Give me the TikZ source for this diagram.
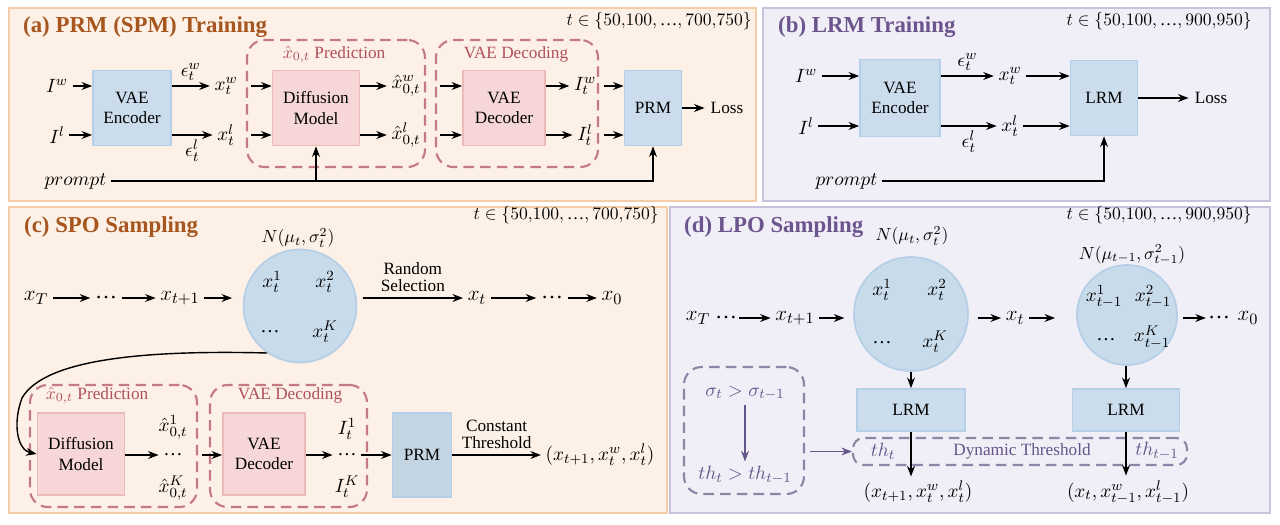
\documentclass[tikz,border=0pt]{standalone}
\usepackage{amsmath,amssymb}
\usepackage{fontspec}
\setmainfont{Liberation Serif}
\usetikzlibrary{arrows.meta, positioning, calc, fit}
\definecolor{peach}{HTML}{FDF0E6}
\definecolor{peachline}{HTML}{F6CBA8}
\definecolor{lilac}{HTML}{F0EEF6}
\definecolor{lilacline}{HTML}{C9C2DD}
\definecolor{ttlorange}{HTML}{A6561E}
\definecolor{ttlpurple}{HTML}{6C558E}
\definecolor{bluefill}{HTML}{CBDDED}
\definecolor{blueline}{HTML}{B4D0E8}
\definecolor{pinkfill}{HTML}{F6D6D6}
\definecolor{pinkline}{HTML}{EDBABA}
\definecolor{grpred}{HTML}{C47A84}
\definecolor{grptext}{HTML}{B0505C}
\definecolor{grppurple}{HTML}{8E84A6}
\definecolor{purptext}{HTML}{64568A}
\definecolor{circfill}{HTML}{C8DBEB}
\definecolor{circline}{HTML}{B4CFE6}
\newcommand{\ellip}{\text{…}}

\begin{document}
\begin{tikzpicture}[x=0.02cm, y=-0.02cm,
    ttl/.style={anchor=base west, font=\fontsize{13}{15}\selectfont\bfseries},
    tset/.style={anchor=base east, inner sep=0pt, font=\fontsize{10}{12}\selectfont},
    bbox/.style={rectangle, draw=blueline, fill=bluefill, line width=1pt, align=center,
                 font=\fontsize{9.8}{11.5}\selectfont},
    pbox/.style={bbox, draw=pinkline, fill=pinkfill},
    grp/.style={draw=grpred, dash pattern=on 6pt off 3.5pt, line width=1.2pt,
                rounded corners=10pt, inner sep=0pt},
    pgrp/.style={grp, draw=grppurple},
    glbl/.style={anchor=base, text=grptext, font=\fontsize{9.8}{11.5}\selectfont},
    mth/.style={inner sep=2.5pt, font=\fontsize{11}{13}\selectfont},
    big/.style={mth, font=\fontsize{12.5}{14}\selectfont},
    nrm/.style={mth, font=\fontsize{10}{12}\selectfont},
    txt/.style={align=center, font=\fontsize{9.8}{11.5}\selectfont},
    smp/.style={circle, draw=circline, fill=circfill, line width=1pt, inner sep=0pt},
    arr/.style={-{Stealth[length=6pt, width=4.5pt]}, line width=0.8pt},
    parr/.style={arr, draw=purptext}
]
\useasboundingbox (0,0) rectangle (1280,524);

% panels
\draw[fill=peach, draw=peachline, line width=1.1pt] (9,8) rectangle (756,201);
\draw[fill=lilac, draw=lilacline, line width=1.1pt] (763,8) rectangle (1270,201);
\draw[fill=peach, draw=peachline, line width=1.1pt] (9,207) rectangle (667,513);
\draw[fill=lilac, draw=lilacline, line width=1.1pt] (670,207) rectangle (1270,513);

%% (a) PRM (SPM) Training
\node[ttl, text=ttlorange] (ttla) at (17,32) {(a) PRM (SPM) Training};
\node[tset] (tseta) at (752,26) {$t\in\{50{,}100,\ellip,700{,}750\}$};

\node[grp, fit={(247,40) (425,167)}] (preda) {};
\node[glbl] (predla) at (334,58) {$\hat{x}_{0,t}$ Prediction};
\node[grp, fit={(436,40) (598,167)}] (vaeda) {};
\node[glbl] (vaedla) at (516,58) {VAE Decoding};

\node[mth] (Iwa) at (57,86) {$I^w$};
\node[mth] (Ila) at (57,135) {$I^l$};
\node[bbox, minimum width=1.56cm, minimum height=1.5cm] (enca) at (132,108) {VAE\\Encoder};
\node[mth] (xwa) at (226,86) {$x_t^w$};
\node[mth] (xla) at (226,135) {$x_t^l$};
\node[pbox, minimum width=1.74cm, minimum height=1.5cm] (dma) at (316,108) {Diffusion\\Model};
\node[mth] (hxwa) at (406,86) {$\hat{x}_{0,t}^w$};
\node[mth] (hxla) at (406,135) {$\hat{x}_{0,t}^l$};
\node[pbox, minimum width=1.64cm, minimum height=1.5cm] (deca) at (504,108) {VAE\\Decoder};
\node[mth] (Itwa) at (585,86) {$I_t^w$};
\node[mth] (Itla) at (585,135) {$I_t^l$};
\node[bbox, minimum width=1.14cm, minimum height=1.5cm] (prma) at (653,108) {PRM};
\node[txt] (lossa) at (727,108) {Loss};
\node[mth, anchor=east] (prompta) at (111,181) {$prompt$};

\draw[arr] (Iwa) -- (Iwa -| enca.west);
\draw[arr] (Ila) -- (Ila -| enca.west);
\draw[arr] (enca.east |- xwa) -- node[mth, above] {$\epsilon_t^w$} (xwa);
\draw[arr] (enca.east |- xla) -- node[mth, below] {$\epsilon_t^l$} (xla);
\draw[arr] ([xshift=3pt]preda.west |- xwa) -- (xwa -| dma.west);
\draw[arr] ([xshift=3pt]preda.west |- xla) -- (xla -| dma.west);
\draw[arr] (dma.east |- hxwa) -- (hxwa);
\draw[arr] (dma.east |- hxla) -- (hxla);
\draw[arr] ([xshift=3pt]vaeda.west |- hxwa) -- (hxwa -| deca.west);
\draw[arr] ([xshift=3pt]vaeda.west |- hxla) -- (hxla -| deca.west);
\draw[arr] (deca.east |- Itwa) -- (Itwa);
\draw[arr] (deca.east |- Itla) -- (Itla);
\draw[arr] ([xshift=3pt]vaeda.east |- Itwa) -- (Itwa -| prma.west);
\draw[arr] ([xshift=3pt]vaeda.east |- Itla) -- (Itla -| prma.west);
\draw[arr] (prma) -- (lossa);
\draw[arr] (prompta.east) -- (prompta.east -| prma.south) -- (prma.south);
\draw[arr] (prompta.east -| dma.south) -- (dma.south);

%% (b) LRM Training
\node[ttl, text=ttlpurple] (ttlb) at (772,32) {(b) LRM Training};
\node[tset] (tsetb) at (1252,26) {$t\in\{50{,}100,\ellip,900{,}950\}$};

\node[mth] (Iwb) at (806,76) {$I^w$};
\node[mth] (Ilb) at (806,126) {$I^l$};
\node[bbox, minimum width=1.6cm, minimum height=1.54cm] (encb) at (900,98) {VAE\\Encoder};
\node[mth] (xwb) at (1010,76) {$x_t^w$};
\node[mth] (xlb) at (1010,126) {$x_t^l$};
\node[bbox, minimum width=1.34cm, minimum height=1.5cm] (lrmb) at (1104,98) {LRM};
\node[txt] (lossb) at (1211,98) {Loss};
\node[mth, anchor=east] (promptb) at (882,181) {$prompt$};

\draw[arr] (Iwb) -- (Iwb -| encb.west);
\draw[arr] (Ilb) -- (Ilb -| encb.west);
\draw[arr] (encb.east |- xwb) -- node[mth, above] {$\epsilon_t^w$} (xwb);
\draw[arr] (encb.east |- xlb) -- node[mth, below] {$\epsilon_t^l$} (xlb);
\draw[arr] (xwb) -- (xwb -| lrmb.west);
\draw[arr] (xlb) -- (xlb -| lrmb.west);
\draw[arr] (lrmb) -- (lossb);
\draw[arr] (promptb.east) -- (promptb.east -| lrmb.south) -- (lrmb.south);

%% (c) SPO Sampling
\node[ttl, text=ttlorange] (ttlc) at (18,232) {(c) SPO Sampling};
\node[tset] (tsetc) at (659,219) {$t\in\{50{,}100,\ellip,700{,}750\}$};

\node[smp, minimum size=2.26cm] (sampc) at (300,306) {};
\node[nrm] (Nc) at (298,238) {$N(\mu_t,\sigma_t^2)$};
\node[mth] (c1) at (272,282) {$x_t^1$};
\node[mth] (c2) at (325,282) {$x_t^2$};
\node[mth] (cd) at (270,332) {$\ellip$};
\node[mth] (cK) at (325,332) {$x_t^K$};

\node[big] (xTc) at (36,298) {$x_T$};
\node[big] (d1c) at (106,298) {$\ellip$};
\node[big] (xt1c) at (180,298) {$x_{t+1}$};
\node[big] (xtc) at (477,298) {$x_t$};
\node[big] (d2c) at (552,298) {$\ellip$};
\node[big] (x0c) at (612,298) {$x_0$};

\draw[arr] (xTc) -- (d1c);
\draw[arr] (d1c) -- (xt1c);
\draw[arr, shorten >=6pt] (xt1c) -- (xt1c -| sampc.west);
\draw[arr] ([xshift=3pt]sampc.east |- xtc) -- node[txt, above] {Random\\[-2pt]Selection} (xtc);
\draw[arr] (xtc) -- (d2c);
\draw[arr] (d2c) -- (x0c);

\node[grp, fit={(30,385) (197,507)}] (predc) {};
\node[glbl] (predlc) at (97,399) {$\hat{x}_{0,t}$ Prediction};
\node[grp, fit={(210,385) (367,507)}] (vaedc) {};
\node[glbl] (vaedlc) at (290,399) {VAE Decoding};

\node[pbox, minimum width=1.74cm, minimum height=1.64cm] (dmc) at (81,454) {Diffusion\\Model};
\node[mth] (hx1c) at (173,427) {$\hat{x}_{0,t}^1$};
\node[mth] (hxdc) at (173,455) {$\ellip$};
\node[mth] (hxKc) at (173,488) {$\hat{x}_{0,t}^K$};
\node[pbox, minimum width=1.64cm, minimum height=1.64cm] (decc) at (264,454) {VAE\\Decoder};
\node[mth] (It1c) at (347,429) {$I_t^1$};
\node[mth] (Itdc) at (347,455) {$\ellip$};
\node[mth] (ItKc) at (347,487) {$I_t^K$};
\node[bbox, minimum width=1.18cm, minimum height=1.68cm, fill=bluefill!90!gray] (prmc) at (422,455) {PRM};
\node[mth] (outc) at (600,455) {$(x_{t+1},x_t^w,x_t^l)$};

\draw[arr] (sampc.235) .. controls (150,350) and (45,358) .. (22,398)
    .. controls (12,425) and (18,450) .. (dmc.west);
\draw[arr] (dmc.east |- hxdc) -- (hxdc);
\draw[arr] ([xshift=-4pt]vaedc.west |- hxdc) -- (hxdc -| decc.west);
\draw[arr] (decc.east |- Itdc) -- (Itdc);
\draw[arr] (Itdc) -- (Itdc -| prmc.west);
\draw[arr] (prmc.east |- outc) -- node[txt, above] {Constant\\[-2pt]Threshold} (outc);

%% (d) LPO Sampling
\node[ttl, text=ttlpurple] (ttld) at (678,232) {(d) LPO Sampling};
\node[tset] (tsetd) at (1252,219) {$t\in\{50{,}100,\ellip,900{,}950\}$};

\node[smp, minimum size=2.28cm] (samp1) at (911,314) {};
\node[nrm] (N1) at (912,236) {$N(\mu_t,\sigma_t^2)$};
\node[mth] (p1) at (882,290) {$x_t^1$};
\node[mth] (p2) at (937,290) {$x_t^2$};
\node[mth] (pd) at (882,343) {$\ellip$};
\node[mth] (pK) at (935,342) {$x_t^K$};

\node[smp, minimum size=2.0cm] (samp2) at (1127,315) {};
\node[nrm] (N2) at (1132,255) {$N(\mu_{t-1},\sigma_{t-1}^2)$};
\node[mth] (q1) at (1104,297) {$x_{t-1}^1$};
\node[mth] (q2) at (1153,297) {$x_{t-1}^2$};
\node[mth] (qd) at (1106,340) {$\ellip$};
\node[mth] (qK) at (1152,337) {$x_{t-1}^K$};

\node[big] (xTd) at (698,318) {$x_T$};
\node[big, inner sep=1pt] (d1d) at (726,318) {$\ellip$};
\node[big] (xt1d) at (795,318) {$x_{t+1}$};
\node[big] (xtd) at (1015,318) {$x_t$};
\node[big, inner sep=1pt] (d2d) at (1219,318) {$\ellip$};
\node[big, inner sep=1pt] (x0d) at (1248,318) {$x_0$};

\draw[arr] (d1d) -- (xt1d);
\draw[arr, shorten >=5pt] (xt1d) -- (xt1d -| samp1.west);
\draw[arr] ([xshift=5pt]samp1.east |- xtd) -- (xtd);
\draw[arr, shorten >=12pt] (xtd) -- (xtd -| samp2.west);
\draw[arr] ([xshift=3pt]samp2.east |- d2d) -- (d2d);

\node[bbox, minimum width=2.16cm, minimum height=0.84cm] (lrm1) at (911,410) {LRM};
\node[bbox, minimum width=2.14cm, minimum height=0.84cm] (lrm2) at (1126,410) {LRM};
\node[pgrp, fit={(853,438) (1187,465)}, rounded corners=6pt] (dyn) {};
\node[txt, text=purptext] (dynl) at (1022,451) {Dynamic Threshold};
\node[mth, text=purptext] (th1) at (883,451) {$th_t$};
\node[mth, text=purptext] (th2) at (1157,451) {$th_{t-1}$};
\node[mth] (out1) at (918,492) {$(x_{t+1},x_t^w,x_t^l)$};
\node[mth] (out2) at (1128,492) {$(x_t,x_{t-1}^w,x_{t-1}^l)$};

\draw[arr] (samp1.south) -- (lrm1.north);
\draw[arr] (samp2.south -| lrm2.north) -- (lrm2.north);
\draw[arr] (lrm1.south) -- (lrm1.south |- out1.north);
\draw[arr] (lrm2.south) -- (lrm2.south |- out2.north);

\node[pgrp, fit={(684,367) (804,494)}] (cond) {};
\node[mth, text=purptext] (sig) at (745,393) {$\sigma_t>\sigma_{t-1}$};
\node[mth, text=purptext] (thc) at (745,475) {$th_t>th_{t-1}$};
\draw[parr] (sig) -- (thc);
\draw[parr] ([xshift=3pt]cond.east |- dyn.west) -- (dyn.west);
\end{tikzpicture}
\end{document}
